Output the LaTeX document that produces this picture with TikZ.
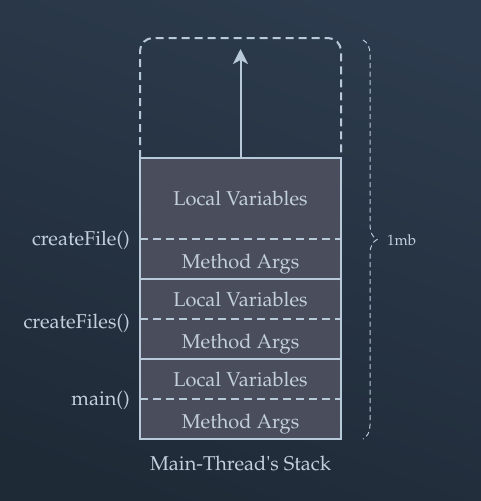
\documentclass[tikz,border=0pt]{standalone}
\usepackage[T1]{fontenc}
\usepackage{textcomp}
\renewcommand{\rmdefault}{ppl}
\usetikzlibrary{arrows.meta,decorations.pathreplacing}
\definecolor{bgtop}{HTML}{2C3B4D}
\definecolor{bgbot}{HTML}{1F2A37}
\definecolor{cellfill}{HTML}{4A4D5C}
\definecolor{linec}{HTML}{B8C9D9}
\definecolor{textc}{HTML}{C2CFDC}
\tikzset{
  cell/.style={fill=cellfill, minimum width=201pt, inner sep=0pt, outer sep=0pt, text=textc, font=\fontsize{20}{23}\selectfont, text height=14pt, text depth=0pt},
  argcell/.style={cell, text height=18pt},
  solidline/.style={draw=linec, line width=2pt},
  dashline/.style={draw=linec, line width=2pt, dash pattern=on 8pt off 5pt},
  lbl/.style={text=textc, font=\fontsize{20}{23}\selectfont, inner sep=0pt},
}
\begin{document}
\begin{tikzpicture}[x=1pt,y=-1pt]
\useasboundingbox (0,0) rectangle (481,501);
\shade[top color=bgtop, bottom color=bgbot, shading angle=-20] (-20,-20) rectangle (501,521);
% cells
\node[cell, minimum height=81pt] (lv1) at (240.5,198.5) {Local Variables};
\node[argcell, minimum height=40pt] (ma1) at (240.5,259) {Method Args};
\node[cell, minimum height=40pt] (lv2) at (240.5,299) {Local Variables};
\node[argcell, minimum height=40pt] (ma2) at (240.5,339) {Method Args};
\node[cell, minimum height=40pt] (lv3) at (240.5,379) {Local Variables};
\node[argcell, minimum height=40pt] (ma3) at (240.5,419) {Method Args};
% lines
\draw[dashline] (lv1.south west) -- (lv1.south east);
\draw[dashline] (lv2.south west) -- (lv2.south east);
\draw[dashline] (lv3.south west) -- (lv3.south east);
\draw[solidline] (ma1.south west) -- (ma1.south east);
\draw[solidline] (ma2.south west) -- (ma2.south east);
\draw[solidline] (lv1.north west) rectangle (ma3.south east);
% growth area
\coordinate (topc) at (240.5,38);
\draw[dashline, rounded corners=13pt] (lv1.north west) |- (topc) -| (lv1.north east);
\coordinate (arrowtip) at (240.5,49);
\draw[draw=linec, line width=2pt, -{Stealth[length=15pt,width=15pt,inset=4pt]}] (lv1.north) -- (arrowtip);
% brace
\coordinate (bt) at (363,40);
\coordinate (bb) at (363,439);
\draw[draw=linec, line width=1pt, dash pattern=on 5pt off 3.5pt, decorate, decoration={brace, amplitude=14pt}] (bt) -- (bb);
\node[lbl, anchor=west, font=\fontsize{15}{17}\selectfont] (mb) at (387,240) {1mb};
% labels
\node[lbl, anchor=east] (f1) at (130,240) {createFile()};
\node[lbl, anchor=east] (f2) at (130,323) {createFiles()};
\node[lbl, anchor=east] (f3) at (130,400) {main()};
\node[lbl] (title) at (240.5,463) {Main-Thread\textquotesingle s Stack};
\end{tikzpicture}
\end{document}
